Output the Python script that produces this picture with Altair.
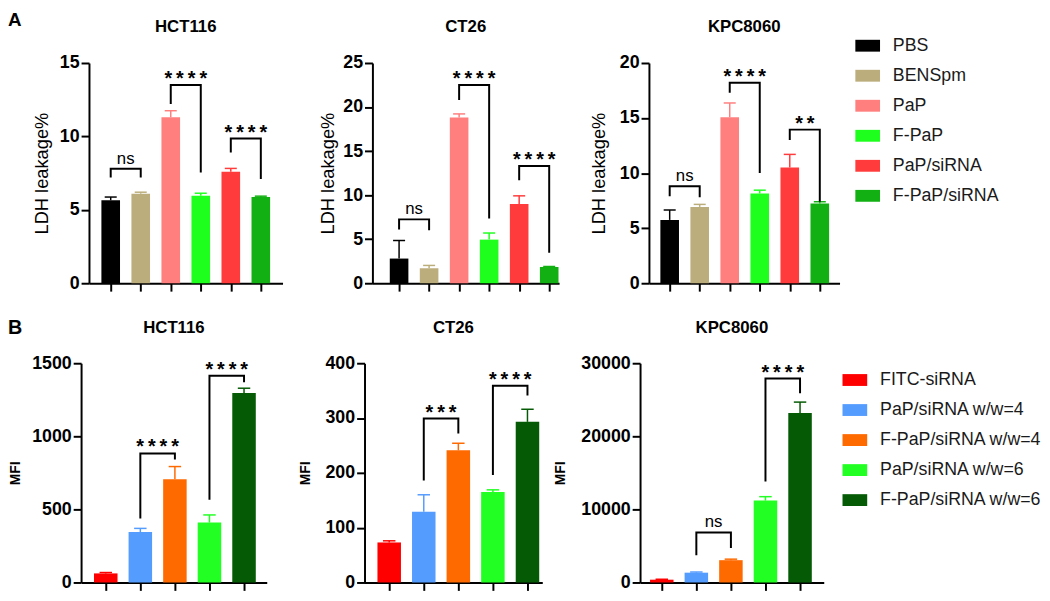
import altair as alt
import pandas as pd

FONT = "Liberation Sans"

# ---------------- data: panel A (LDH leakage %) ----------------
groups_a = ["PBS", "BENSpm", "PaP", "F-PaP", "PaP/siRNA", "F-PaP/siRNA"]
colors_a = ["#000000", "#BCAE7C", "#FF7F7F", "#1EFF1E", "#FF3B3B", "#12B012"]

ldh_hct116 = [5.65, 6.1, 11.3, 5.95, 7.6, 5.88]
ldh_hct116_err = [0.22, 0.1, 0.45, 0.18, 0.22, 0.05]
ldh_ct26 = [2.8, 1.7, 18.8, 4.95, 9.0, 1.83]
ldh_ct26_err = [2.05, 0.32, 0.42, 0.75, 0.92, 0.07]
ldh_kpc = [5.75, 6.93, 15.07, 8.15, 10.5, 7.25]
ldh_kpc_err = [0.9, 0.23, 1.3, 0.3, 1.2, 0.15]

# brackets: (left bar, right bar, top, left leg end, right leg end, label)
brk_ldh_hct116 = [(0, 1, 7.8, 7.2, 7.2, "ns"), (2, 3, 13.5, 12.2, 7.55, "****"), (4, 5, 9.85, 8.9, 7.1, "****")]
brk_ldh_ct26 = [(0, 1, 7.25, 6.1, 6.0, "ns"), (2, 3, 22.5, 20.8, 7.35, "****"), (4, 5, 13.3, 11.7, 3.45, "****")]
brk_ldh_kpc = [(0, 1, 8.8, 7.9, 7.8, "ns"), (2, 3, 18.2, 17.3, 10.0, "****"), (4, 5, 13.95, 13.0, 7.4, "**")]

ticks_ldh_hct116 = [0, 5, 10, 15]
ticks_ldh_ct26 = [0, 5, 10, 15, 20, 25]
ticks_ldh_kpc = [0, 5, 10, 15, 20]

# ---------------- data: panel B (MFI) ----------------
groups_b = ["FITC-siRNA", "PaP/siRNA w/w=4", "F-PaP/siRNA w/w=4", "PaP/siRNA w/w=6", "F-PaP/siRNA w/w=6"]
colors_b = ["#FF0000", "#559CFF", "#FF6A00", "#22FF22", "#055A05"]

mfi_hct116 = [62, 345, 707, 410, 1296]
mfi_hct116_err = [6, 25, 86, 52, 33]
mfi_ct26 = [73, 129, 241, 165, 293]
mfi_ct26_err = [3, 31, 13, 4, 23]
mfi_kpc = [380, 1340, 3050, 11200, 23200]
mfi_kpc_err = [60, 90, 140, 540, 1480]

brk_mfi_hct116 = [(1, 2, 883, 438, 842, "****"), (3, 4, 1415, 566, 1370, "****")]
brk_mfi_ct26 = [(1, 2, 299, 186, 272, "***"), (3, 4, 359, 196, 341, "****")]
brk_mfi_kpc = [(1, 2, 6850, 3720, 4700, "ns"), (3, 4, 27900, 13800, 25900, "****")]

ticks_mfi_hct116 = [0, 500, 1000, 1500]
ticks_mfi_ct26 = [0, 100, 200, 300, 400]
ticks_mfi_kpc = [0, 10000, 20000, 30000]

cell_lines = ["HCT116", "CT26", "KPC8060"]


def make_legend(x, y):
    return alt.Legend(
        title=None, orient="none", legendX=x, legendY=y,
        symbolType="M-1,-0.48H1V0.48H-1Z", symbolSize=625,
        symbolStrokeWidth=0, symbolOpacity=1,
        labelFont=FONT, labelFontSize=18, labelColor="#1a1a1a",
        labelOffset=13, rowPadding=8.4, padding=0, labelLimit=400,
    )


def panel(cell, groups, colors, field, vals, errs, brackets, yticks, ytitle,
          ytitle_size, ytitle_weight, lo, hi, width, height, bar_half, cap_half,
          extent, tpad, legend, tag=None):
    n = len(groups)
    df = pd.DataFrame({field: groups, "i": list(range(n)), "v": vals, "e": errs})
    df["xa"] = df["i"] - bar_half
    df["xb"] = df["i"] + bar_half
    df["z"] = 0.0
    df["t"] = df["v"] + df["e"]
    df["ca"] = df["i"] - cap_half
    df["cb"] = df["i"] + cap_half

    pts, labs = [], []
    for k, (a, b, top, la, lb, lab) in enumerate(brackets):
        for o, (xx, yy) in enumerate([(a, la), (a, top), (b, top), (b, lb)]):
            pts.append({"k": k, "o": o, "bx": xx, "by": yy})
        labs.append({"mx": (a + b) / 2, "my": top,
                     "lab": lab if lab == "ns" else "\u2009".join(lab),
                     "isns": lab == "ns"})

    xs = alt.Scale(domain=[lo, hi], nice=False, zero=False)
    ys = alt.Scale(domain=[0, yticks[-1]], nice=False, zero=True)
    xax = alt.Axis(values=list(range(n)), labels=False, title=None, grid=False,
                   ticks=True, tickSize=8, tickWidth=2, tickColor="black",
                   domainColor="black", domainWidth=2)
    yax = alt.Axis(values=yticks, title=ytitle, grid=False, tickSize=8, tickWidth=2,
                   tickColor="black", domainColor="black", domainWidth=2,
                   labelFont=FONT, labelFontSize=18, labelFontWeight="bold",
                   labelColor="black", labelPadding=2, minExtent=extent,
                   maxExtent=extent, titlePadding=tpad, titleFont=FONT,
                   titleFontSize=ytitle_size, titleFontWeight=ytitle_weight,
                   titleColor="black", format="d")

    color = alt.Color(f"{field}:N", scale=alt.Scale(domain=groups, range=colors), legend=legend)
    stroke = alt.Stroke(f"{field}:N", scale=alt.Scale(domain=groups, range=colors), legend=None)

    base = alt.Chart(df)
    bar = base.mark_bar().encode(
        x=alt.X("xa:Q", scale=xs, axis=xax), x2="xb",
        y=alt.Y("v:Q", scale=ys, axis=yax), y2="z", color=color)
    err = base.mark_rule(strokeWidth=1.5).encode(
        x=alt.X("i:Q", scale=xs, axis=xax),
        y=alt.Y("v:Q", scale=ys, axis=yax), y2="t", stroke=stroke)
    cap = base.mark_rule(strokeWidth=1.5).encode(
        x=alt.X("ca:Q", scale=xs, axis=xax), x2="cb",
        y=alt.Y("t:Q", scale=ys, axis=yax), stroke=stroke)

    bdf = pd.DataFrame(pts)
    br = alt.Chart(bdf).mark_line(color="black", strokeWidth=2, strokeJoin="miter").encode(
        x=alt.X("bx:Q", scale=xs, axis=xax), y=alt.Y("by:Q", scale=ys, axis=yax),
        detail="k:N", order="o:Q")

    ldf = pd.DataFrame(labs)
    ns_txt = alt.Chart(ldf).transform_filter("datum.isns").mark_text(
        font=FONT, fontSize=17, color="black", dy=-10).encode(
        x=alt.X("mx:Q", scale=xs, axis=xax), y=alt.Y("my:Q", scale=ys, axis=yax), text="lab:N")
    st_txt = alt.Chart(ldf).transform_filter("!datum.isns").mark_text(
        font=FONT, fontSize=20, fontWeight="bold", color="black", dy=-6).encode(
        x=alt.X("mx:Q", scale=xs, axis=xax), y=alt.Y("my:Q", scale=ys, axis=yax), text="lab:N")

    ttl = alt.Chart(pd.DataFrame({"s": [cell]})).mark_text(
        font=FONT, fontSize=17, fontWeight="bold", color="black",
        align="center", baseline="alphabetic").encode(
        x=alt.value(width / 2), y=alt.value(-31), text="s:N")

    layers = [bar, err, cap, br, ns_txt, st_txt, ttl]
    if tag is not None:
        layers.append(alt.Chart(pd.DataFrame({"s": [tag[0]]})).mark_text(
            font=FONT, fontSize=tag[3], fontWeight="bold", color="black",
            align="left", baseline="top").encode(
            x=alt.value(tag[1]), y=alt.value(tag[2]), text="s:N"))
    return alt.layer(*layers).properties(width=width, height=height)


SA, SB = 30.4, 35.0  # px per bar step (used only to derive scale domains)
HA, HB = 223, 222

legA = make_legend(784, -30)
legB = make_legend(771, 4.5)

pA1 = panel(cell_lines[0], groups_a, colors_a, "treatment", ldh_hct116, ldh_hct116_err,
            brk_ldh_hct116, ticks_ldh_hct116, "LDH leakage%", 18.5, "normal",
            -22 / SA, -22 / SA + 196 / SA, 196, HA, 0.31, 0.2, 30, 8.5, legA,
            tag=("A", -82, -52, 19))
pA2 = panel(cell_lines[1], groups_a, colors_a, "treatment", ldh_ct26, ldh_ct26_err,
            brk_ldh_ct26, ticks_ldh_ct26, "LDH leakage%", 18.5, "normal",
            -27 / SA, -27 / SA + 189 / SA, 189, HA, 0.31, 0.2, 30, 5.5, legA)
pA3 = panel(cell_lines[2], groups_a, colors_a, "treatment", ldh_kpc, ldh_kpc_err,
            brk_ldh_kpc, ticks_ldh_kpc, "LDH leakage%", 18.5, "normal",
            -21 / SA, -21 / SA + 193 / SA, 193, HA, 0.31, 0.2, 30, 10.5, legA)

pB1 = panel(cell_lines[0], groups_b, colors_b, "formulation", mfi_hct116, mfi_hct116_err,
            brk_mfi_hct116, ticks_mfi_hct116, "MFI", 14, "bold",
            -25 / SB, -25 / SB + 188 / SB, 188, HB, 0.34, 0.18, 52, 7, legB,
            tag=("B", -74, -46, 20))
pB2 = panel(cell_lines[1], groups_b, colors_b, "formulation", mfi_ct26, mfi_ct26_err,
            brk_mfi_ct26, ticks_mfi_ct26, "MFI", 14, "bold",
            -25 / SB, -25 / SB + 180 / SB, 180, HB, 0.34, 0.18, 42, 11, legB)
pB3 = panel(cell_lines[2], groups_b, colors_b, "formulation", mfi_kpc, mfi_kpc_err,
            brk_mfi_kpc, ticks_mfi_kpc, "MFI", 14, "bold",
            -22 / SB, -22 / SB + 186 / SB, 186, HB, 0.34, 0.18, 62, 11, legB)

# empty spacer so that row A sits a little to the right of row B
spacer = alt.Chart(pd.DataFrame({"s": [""]})).mark_text(opacity=0).encode(
    text="s:N", x=alt.value(0), y=alt.value(0)).properties(width=8, height=HA)

innerA = alt.hconcat(pA1, pA2, pA3, spacing=91, bounds="flush").resolve_scale(
    x="independent", y="independent", color="shared", stroke="shared")
rowA = alt.hconcat(spacer, innerA, spacing=0, bounds="flush").resolve_scale(
    x="independent", y="independent", color="shared", stroke="shared")
rowB = alt.hconcat(pB1, pB2, pB3, spacing=99, bounds="flush").resolve_scale(
    x="independent", y="independent", color="shared", stroke="shared")

chart = alt.vconcat(rowA, rowB, spacing=26).resolve_scale(
    color="independent", stroke="independent").properties(
    padding=0, background="white").configure_view(stroke=None)

chart.save("out.html", embed_options={"renderer": "svg", "actions": False})
